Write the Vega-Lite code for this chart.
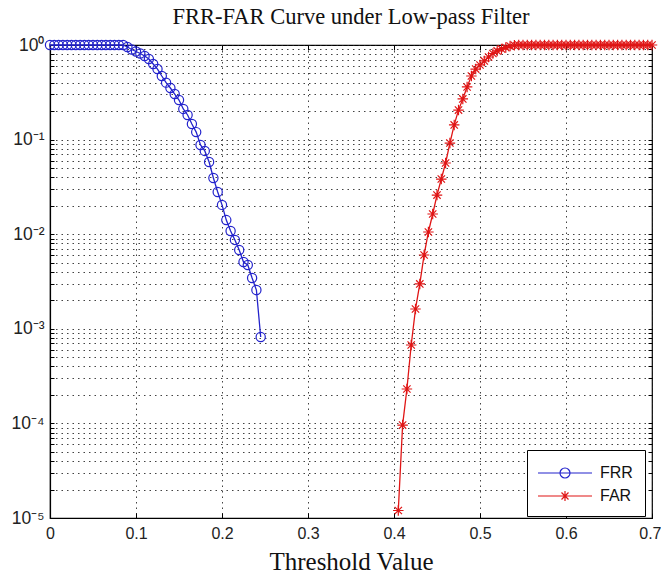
{
  "$schema": "https://vega.github.io/schema/vega-lite/v6.json",
  "width": 602,
  "height": 473,
  "autosize": "none",
  "padding": {"left": 50, "top": 45, "right": 9, "bottom": 60},
  "background": "white",
  "title": {"text": "FRR-FAR Curve under Low-pass Filter", "font": "Liberation Serif", "fontSize": 22.5, "fontWeight": "normal", "color": "#111", "offset": 8},
  "config": {
    "view": {"stroke": "#000", "strokeWidth": 1.2},
    "axis": {
      "gridDash": [1.5, 4], "gridColor": "#222", "gridOpacity": 0.85, "gridWidth": 1,
      "tickColor": "#000", "domainColor": "#000", "domainWidth": 1.2,
      "labelFont": "Liberation Sans", "labelFontSize": 16, "labelColor": "#222",
      "labelFlush": false, "labelOverlap": false, "labelBound": false
    },
    "legend": {
      "title": null, "orient": "none", "legendX": 477, "legendY": 405,
      "strokeColor": "#000", "fillColor": "#fff", "padding": 12,
      "labelFont": "Liberation Sans", "labelFontSize": 16, "labelColor": "#111",
      "symbolSize": 400, "symbolStrokeWidth": 1.2, "symbolOpacity": 1, "symbolFillColor": "transparent",
      "rowPadding": 4, "labelOffset": 24, "symbolOffset": 15
    }
  },
  "data": {"values": [
    {"series":"FRR","x":0,"y":1},{"series":"FRR","x":0.005,"y":1},{"series":"FRR","x":0.01,"y":1},{"series":"FRR","x":0.015,"y":1},
    {"series":"FRR","x":0.02,"y":1},{"series":"FRR","x":0.025,"y":1},{"series":"FRR","x":0.03,"y":1},{"series":"FRR","x":0.035,"y":1},
    {"series":"FRR","x":0.04,"y":1},{"series":"FRR","x":0.045,"y":1},{"series":"FRR","x":0.05,"y":1},{"series":"FRR","x":0.055,"y":1},
    {"series":"FRR","x":0.06,"y":1},{"series":"FRR","x":0.065,"y":1},{"series":"FRR","x":0.07,"y":1},{"series":"FRR","x":0.075,"y":1},
    {"series":"FRR","x":0.08,"y":1},{"series":"FRR","x":0.085,"y":1},
    {"series":"FRR","x":0.09,"y":0.952},{"series":"FRR","x":0.095,"y":0.896},{"series":"FRR","x":0.1,"y":0.853},
    {"series":"FRR","x":0.105,"y":0.813},{"series":"FRR","x":0.11,"y":0.765},{"series":"FRR","x":0.115,"y":0.711},
    {"series":"FRR","x":0.12,"y":0.63},{"series":"FRR","x":0.125,"y":0.557},{"series":"FRR","x":0.13,"y":0.47},
    {"series":"FRR","x":0.135,"y":0.4},{"series":"FRR","x":0.14,"y":0.351},{"series":"FRR","x":0.145,"y":0.303},
    {"series":"FRR","x":0.15,"y":0.262},{"series":"FRR","x":0.155,"y":0.211},{"series":"FRR","x":0.16,"y":0.182},
    {"series":"FRR","x":0.165,"y":0.146},{"series":"FRR","x":0.17,"y":0.12},{"series":"FRR","x":0.175,"y":0.0877},
    {"series":"FRR","x":0.18,"y":0.0759},{"series":"FRR","x":0.185,"y":0.058},{"series":"FRR","x":0.19,"y":0.0393},
    {"series":"FRR","x":0.195,"y":0.0279},{"series":"FRR","x":0.2,"y":0.0204},{"series":"FRR","x":0.205,"y":0.0141},
    {"series":"FRR","x":0.21,"y":0.0108},{"series":"FRR","x":0.215,"y":0.0087},{"series":"FRR","x":0.22,"y":0.0068},
    {"series":"FRR","x":0.225,"y":0.00508},{"series":"FRR","x":0.23,"y":0.00473},{"series":"FRR","x":0.235,"y":0.00344},
    {"series":"FRR","x":0.24,"y":0.00257},{"series":"FRR","x":0.245,"y":0.000819},
    {"series":"FAR","x":0.405,"y":0.000012},{"series":"FAR","x":0.41,"y":0.000096},{"series":"FAR","x":0.415,"y":0.000231},
    {"series":"FAR","x":0.42,"y":0.000674},{"series":"FAR","x":0.425,"y":0.00162},{"series":"FAR","x":0.43,"y":0.00298},
    {"series":"FAR","x":0.435,"y":0.00603},{"series":"FAR","x":0.44,"y":0.01055},{"series":"FAR","x":0.445,"y":0.01636},
    {"series":"FAR","x":0.45,"y":0.0259},{"series":"FAR","x":0.455,"y":0.0383},{"series":"FAR","x":0.46,"y":0.0566},
    {"series":"FAR","x":0.465,"y":0.092},{"series":"FAR","x":0.47,"y":0.143},{"series":"FAR","x":0.475,"y":0.205},
    {"series":"FAR","x":0.48,"y":0.269},{"series":"FAR","x":0.485,"y":0.36},{"series":"FAR","x":0.49,"y":0.47},
    {"series":"FAR","x":0.495,"y":0.557},{"series":"FAR","x":0.5,"y":0.615},{"series":"FAR","x":0.505,"y":0.678},
    {"series":"FAR","x":0.51,"y":0.747},{"series":"FAR","x":0.515,"y":0.813},{"series":"FAR","x":0.52,"y":0.865},
    {"series":"FAR","x":0.525,"y":0.908},{"series":"FAR","x":0.53,"y":0.94},{"series":"FAR","x":0.535,"y":0.976},
    {"series":"FAR","x":0.54,"y":0.993},{"series":"FAR","x":0.545,"y":1},{"series":"FAR","x":0.55,"y":1},
    {"series":"FAR","x":0.555,"y":1},{"series":"FAR","x":0.56,"y":1},{"series":"FAR","x":0.565,"y":1},
    {"series":"FAR","x":0.57,"y":1},{"series":"FAR","x":0.575,"y":1},{"series":"FAR","x":0.58,"y":1},
    {"series":"FAR","x":0.585,"y":1},{"series":"FAR","x":0.59,"y":1},{"series":"FAR","x":0.595,"y":1},
    {"series":"FAR","x":0.6,"y":1},{"series":"FAR","x":0.605,"y":1},{"series":"FAR","x":0.61,"y":1},
    {"series":"FAR","x":0.615,"y":1},{"series":"FAR","x":0.62,"y":1},{"series":"FAR","x":0.625,"y":1},
    {"series":"FAR","x":0.63,"y":1},{"series":"FAR","x":0.635,"y":1},{"series":"FAR","x":0.64,"y":1},
    {"series":"FAR","x":0.645,"y":1},{"series":"FAR","x":0.65,"y":1},{"series":"FAR","x":0.655,"y":1},
    {"series":"FAR","x":0.66,"y":1},{"series":"FAR","x":0.665,"y":1},{"series":"FAR","x":0.67,"y":1},
    {"series":"FAR","x":0.675,"y":1},{"series":"FAR","x":0.68,"y":1},{"series":"FAR","x":0.685,"y":1},
    {"series":"FAR","x":0.69,"y":1},{"series":"FAR","x":0.695,"y":1},{"series":"FAR","x":0.7,"y":1}
  ]},
  "resolve": {"axis": {"x": "independent", "y": "independent"}},
  "layer": [
    {
      "mark": {"type": "line", "strokeWidth": 1.3},
      "encoding": {
        "x": {"field": "x", "type": "quantitative",
          "scale": {"domain": [0, 0.7], "nice": false, "zero": false},
          "axis": {"values": [0, 0.1, 0.2, 0.3, 0.4, 0.5, 0.6, 0.7], "format": "~g", "grid": true, "tickSize": -5, "labelPadding": 12,
            "labelAlign": {"condition": {"test": "datum.value >= 0.69", "value": "right"}, "value": "center"},
            "labelOffset": {"condition": {"test": "datum.value >= 0.69", "value": 9}, "value": 0},
            "title": "Threshold Value", "titleFont": "Liberation Serif", "titleFontSize": 25, "titleFontWeight": "normal", "titleColor": "#111", "titlePadding": 8}},
        "y": {"field": "y", "type": "quantitative",
          "scale": {"type": "log", "domain": [0.00001, 1], "nice": false},
          "axis": {"values": [0.00001,0.00002,0.00003,0.00004,0.00005,0.00006,0.00007,0.00008,0.00009,
                              0.0001,0.0002,0.0003,0.0004,0.0005,0.0006,0.0007,0.0008,0.0009,
                              0.001,0.002,0.003,0.004,0.005,0.006,0.007,0.008,0.009,
                              0.01,0.02,0.03,0.04,0.05,0.06,0.07,0.08,0.09,
                              0.1,0.2,0.3,0.4,0.5,0.6,0.7,0.8,0.9,1],
            "labelExpr": "abs(log(datum.value)/LN10 - round(log(datum.value)/LN10)) < 0.001 ? '10' + (round(log(datum.value)/LN10) == 0 ? '⁰' : '⁻' + ['','¹','²','³','⁴','⁵'][-round(log(datum.value)/LN10)]) : ''",
            "labelFontSize": 17.5, "grid": true, "tickSize": -4, "labelPadding": 10, "title": null}},
        "color": {"field": "series", "type": "nominal",
          "scale": {"domain": ["FRR", "FAR"], "range": ["#2323cc", "#e01515"]}}
      }
    },
    {
      "mark": {"type": "point", "filled": false, "strokeWidth": 1.2, "opacity": 1},
      "encoding": {
        "x": {"field": "x", "type": "quantitative",
          "axis": {"orient": "top", "values": [0, 0.1, 0.2, 0.3, 0.4, 0.5, 0.6, 0.7], "labels": false, "grid": false, "domain": false, "tickSize": -5, "title": null}},
        "y": {"field": "y", "type": "quantitative",
          "axis": {"orient": "right", "values": [0.00001,0.00002,0.00003,0.00004,0.00005,0.00006,0.00007,0.00008,0.00009,
                              0.0001,0.0002,0.0003,0.0004,0.0005,0.0006,0.0007,0.0008,0.0009,
                              0.001,0.002,0.003,0.004,0.005,0.006,0.007,0.008,0.009,
                              0.01,0.02,0.03,0.04,0.05,0.06,0.07,0.08,0.09,
                              0.1,0.2,0.3,0.4,0.5,0.6,0.7,0.8,0.9,1],
            "labels": false, "grid": false, "domain": false, "tickSize": -4, "title": null}},
        "color": {"field": "series", "type": "nominal"},
        "shape": {"condition": {"test": "datum.series === 'FRR'", "value": "circle"}, "value": "M-1,0H1M0,-1V1M-0.7,-0.7L0.7,0.7M-0.7,0.7L0.7,-0.7"},
        "size": {"condition": {"test": "datum.series === 'FRR'", "value": 85}, "value": 110}
      }
    },
    {
      "mark": {"type": "point", "filled": false, "opacity": 0, "strokeWidth": 1.2},
      "encoding": {
        "x": {"field": "x", "type": "quantitative", "axis": null},
        "y": {"field": "y", "type": "quantitative", "axis": null},
        "color": {"field": "series", "type": "nominal"},
        "shape": {"field": "series", "type": "nominal",
          "scale": {"domain": ["FRR", "FAR"], "range": [
            "M-2.7,0H2.7M-0.5,0A0.5,0.5,0,1,1,0.5,0A0.5,0.5,0,1,1,-0.5,0",
            "M-2.7,0H2.7M0,-0.5V0.5M-0.35,-0.35L0.35,0.35M-0.35,0.35L0.35,-0.35"]}}
      }
    }
  ]
}
